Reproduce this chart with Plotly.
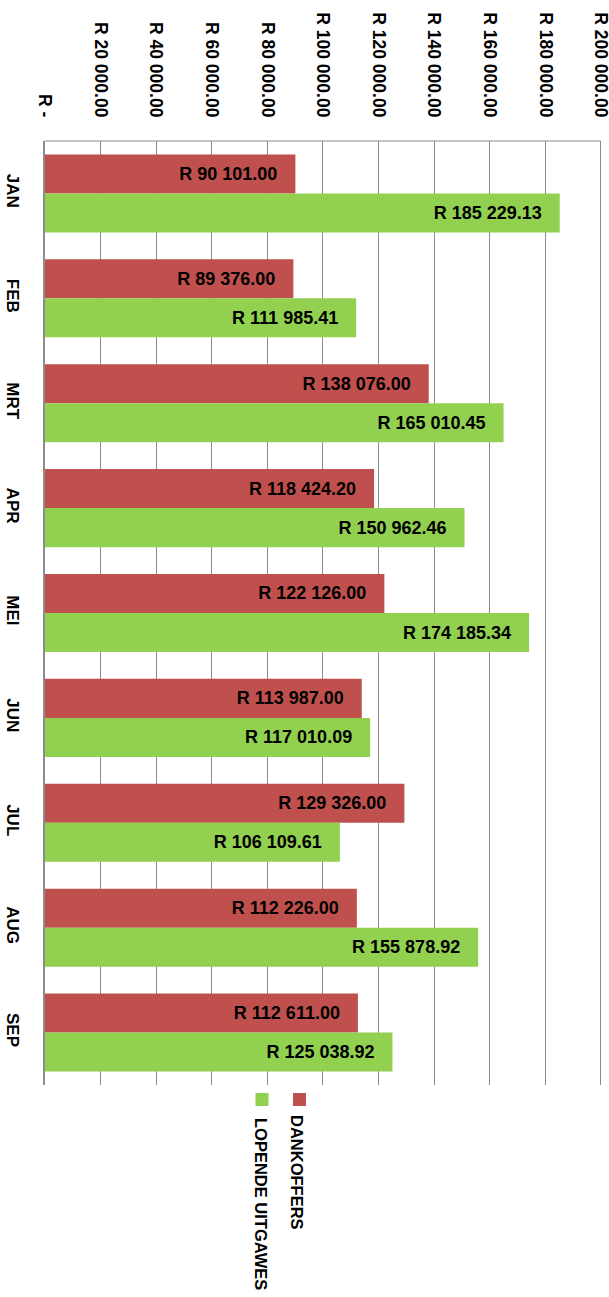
import plotly.graph_objects as go

months = ["JAN", "FEB", "MRT", "APR", "MEI", "JUN", "JUL", "AUG", "SEP"]
dankoffers = [90101.00, 89376.00, 138076.00, 118424.20, 122126.00, 113987.00, 129326.00, 112226.00, 112611.00]
lopende = [185229.13, 111985.41, 165010.45, 150962.46, 174185.34, 117010.09, 106109.61, 155878.92, 125038.92]
tick_vals = [0, 20000, 40000, 60000, 80000, 100000, 120000, 140000, 160000, 180000, 200000]
tick_text = ["R -", "R 20 000.00", "R 40 000.00", "R 60 000.00", "R 80 000.00", "R 100 000.00",
             "R 120 000.00", "R 140 000.00", "R 160 000.00", "R 180 000.00", "R 200 000.00"]
series_names = ["DANKOFFERS", "LOPENDE UITGAWES"]
colors = ["#C0504D", "#92D050"]

def fmt(v):
    return "R " + f"{v:,.2f}".replace(",", " ") + "\u00a0\u00a0\u00a0"

FONT = "Liberation Sans"
fig = go.Figure()
for name, vals, col in zip(series_names, [dankoffers, lopende], colors):
    fig.add_trace(go.Bar(
        y=months, x=vals, orientation="h", name=name,
        marker=dict(color=col, line=dict(width=0)),
        text=[fmt(v) for v in vals], textposition="inside", insidetextanchor="end",
        textangle=0, constraintext="none",
        textfont=dict(family=FONT, size=18, color="black", weight="bold"),
        cliponaxis=False,
    ))

W, H = 609, 1297
L, T = 45, 141
R = W - 603
B = H - 1085
fig.update_layout(
    width=W, height=H, margin=dict(l=L, r=R, t=T, b=B, autoexpand=False),
    barmode="group", bargap=0.256, bargroupgap=0,
    plot_bgcolor="white", paper_bgcolor="white",
    showlegend=False,
    font=dict(family=FONT, color="black"),
    xaxis=dict(side="top", range=[0, 200800], tickvals=tick_vals, ticktext=tick_text,
               tickangle=90, showgrid=True, gridcolor="#8C8C8C", gridwidth=1,
               showline=False, zeroline=False, ticklabeloverflow="allow",
               ticks="", ticklabelstandoff=20, automargin=False,
               tickfont=dict(family=FONT, size=17.5, color="black", weight="bold")),
    yaxis=dict(autorange="reversed", tickangle=90, showline=True, linecolor="#8C8C8C",
               linewidth=1.5, showgrid=False, ticks="", ticklabelstandoff=16, automargin=False,
               tickfont=dict(family=FONT, size=17, color="black", weight="bold")),
)

pw, ph = W - L - R, H - T - B
def px(x):
    return (x - L) / pw
def py(y):
    return (T + ph - y) / ph

# top border of the plot area, from the first to the last tick
fig.add_shape(type="line", xref="x", yref="paper", x0=tick_vals[0], x1=tick_vals[-1], y0=1, y1=1,
              line=dict(color="#8C8C8C", width=1))

# legend (rotated)
leg = [(299.5, 1099.5, 297, 1172), (262, 1099.5, 261, 1204)]
for (sx, sy, tx, ty), name, col in zip(leg, series_names, colors):
    fig.add_shape(type="rect", xref="paper", yref="paper",
                  x0=px(sx - 6.5), x1=px(sx + 6.5), y0=py(sy + 6.5), y1=py(sy - 6.5),
                  fillcolor=col, line=dict(width=0))
    fig.add_annotation(xref="paper", yref="paper", x=px(tx), y=py(ty), text=name,
                       textangle=90, showarrow=False, xanchor="center", yanchor="middle",
                       font=dict(family=FONT, size=16.5, color="black", weight="bold"))

fig.write_html("out.html", config={"displayModeBar": False},
               post_script="document.body.style.margin='0';document.body.style.overflow='hidden';")
